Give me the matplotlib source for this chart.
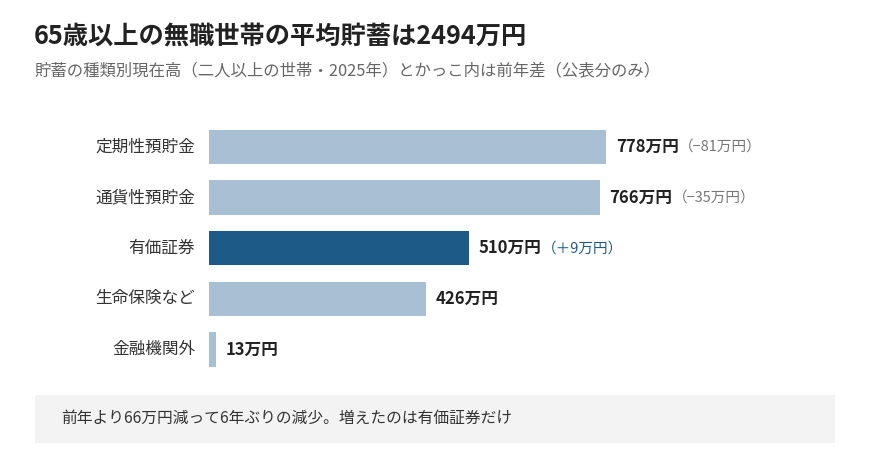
import matplotlib
matplotlib.use("Agg")
import matplotlib.pyplot as plt
from matplotlib.patches import Rectangle

plt.rcParams['font.family'] = ['Noto Sans CJK JP', 'DejaVu Sans']

categories = ["定期性預貯金", "通貨性預貯金", "有価証券", "生命保険など", "金融機関外"]
values = [778, 766, 510, 426, 13]
value_labels = ["778万円", "766万円", "510万円", "426万円", "13万円"]
deltas = ["（−81万円）", "（−35万円）", "（＋9万円）", "", ""]
highlight = [False, False, True, False, False]

LIGHT = "#a8c0d3"
DARK = "#1e5a87"

W, H = 870, 469
fig = plt.figure(figsize=(W / 100, H / 100), dpi=100)
fig.patch.set_facecolor("white")

left_px, right_px = 209, 800
top_px, bot_px = 121.7, 374.8
ax = fig.add_axes([left_px / W, 1 - bot_px / H, (right_px - left_px) / W, (bot_px - top_px) / H])
ax.set_xlim(0, (right_px - left_px) / 0.5103)
ax.set_ylim(len(categories) - 0.5, -0.5)
ax.axis("off")

ypos = list(range(len(categories)))
colors = [DARK if h else LIGHT for h in highlight]
ax.barh(ypos, values, height=0.68, color=colors, left=0)

for y, cat, v, vl, d, h in zip(ypos, categories, values, value_labels, deltas, highlight):
    ax.annotate(cat, xy=(0, y), xytext=(-10, 0), textcoords="offset points",
                ha="right", va="center", fontsize=12, color="#333333")
    t = ax.annotate(vl, xy=(v, y), xytext=(7, 0), textcoords="offset points",
                    ha="left", va="center", fontsize=12, fontweight="bold", color="#222222")
    if d:
        ax.annotate(d, xy=(1, 0.5), xycoords=t, xytext=(0, 0), textcoords="offset points",
                    ha="left", va="center", fontsize=10.5,
                    color=DARK if h else "#777777")

fig.text(34 / W, 1 - 37 / H, "65歳以上の無職世帯の平均貯蓄は2494万円", ha="left", va="center",
         fontsize=18.2, fontweight="bold", color="#222222")
fig.text(34 / W, 1 - 71 / H, "貯蓄の種類別現在高（二人以上の世帯・2025年）とかっこ内は前年差（公表分のみ）",
         ha="left", va="center", fontsize=11.8, color="#666666")

box = Rectangle((35 / W, 1 - 443 / H), (835 - 35) / W, (443 - 395) / H,
                transform=fig.transFigure, facecolor="#f3f3f3", edgecolor="none", zorder=0)
fig.patches.append(box)
fig.text(61 / W, 1 - 418 / H, "前年より66万円減って6年ぶりの減少。増えたのは有価証券だけ",
         ha="left", va="center", fontsize=11.3, color="#333333")

fig.savefig("out.png", dpi=100, facecolor="white")
